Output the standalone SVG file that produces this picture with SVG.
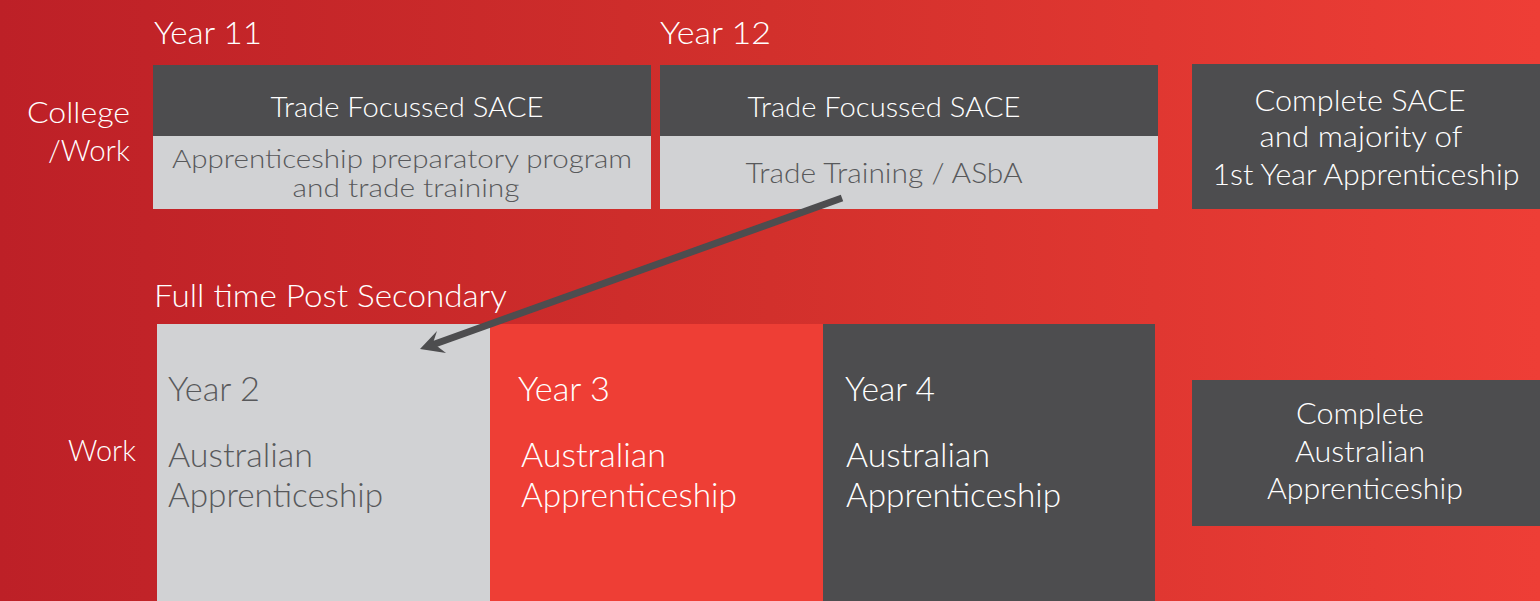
<svg xmlns="http://www.w3.org/2000/svg" width="1540" height="601" viewBox="0 0 1540 601">
<defs>
<linearGradient id="bg" x1="0" y1="0" x2="1" y2="0">
<stop offset="0" stop-color="#BD2027"/>
<stop offset="0.5" stop-color="#D2302C"/>
<stop offset="1" stop-color="#EE3E36"/>
</linearGradient>
<style>
text{font-family:Lato,"Liberation Sans","DejaVu Sans",sans-serif;font-weight:300}
.w{fill:#FFFFFF}
.g{fill:#58595B}
.dark{fill:#4D4D4F}
.light{fill:#D1D2D4}
.red{fill:#EE3E35}
.s25{font-size:25px}
.s28{font-size:28px}
.s30{font-size:30px}
.s32{font-size:32px}
.s33{font-size:33px}
.c{text-anchor:middle}
.r{text-anchor:end}
</style>
</defs>
<rect x="0" y="0" width="1540" height="601" fill="url(#bg)"/>

<g id="labels">
<text class="w s32" x="154" y="44" textLength="108" lengthAdjust="spacingAndGlyphs">Year 11</text>
<text class="w s32" x="660" y="44" textLength="111" lengthAdjust="spacingAndGlyphs">Year 12</text>
<text class="w s30 r" x="130" y="123" textLength="103" lengthAdjust="spacingAndGlyphs">College</text>
<text class="w s30 r" x="130" y="161" textLength="82" lengthAdjust="spacingAndGlyphs">/Work</text>
<text class="w s32" x="154" y="307" textLength="353" lengthAdjust="spacingAndGlyphs">Full time Post Secondary</text>
<text class="w s30 r" x="136" y="461" textLength="68" lengthAdjust="spacingAndGlyphs">Work</text>
</g>

<g id="year11">
<rect class="dark" x="153" y="65" width="498" height="71"/>
<rect class="light" x="153" y="136" width="498" height="73"/>
<text class="w s28 c" x="407" y="117" textLength="273" lengthAdjust="spacingAndGlyphs">Trade Focussed SACE</text>
<text class="g s25 c" x="402" y="168" textLength="460" lengthAdjust="spacingAndGlyphs">Apprenticeship preparatory program</text>
<text class="g s25 c" x="406" y="197" textLength="227" lengthAdjust="spacingAndGlyphs">and trade training</text>
</g>

<g id="year12">
<rect class="dark" x="660" y="65" width="498" height="71"/>
<rect class="light" x="660" y="136" width="498" height="73"/>
<text class="w s28 c" x="884" y="117" textLength="273" lengthAdjust="spacingAndGlyphs">Trade Focussed SACE</text>
<text class="g s28 c" x="884" y="183" textLength="277" lengthAdjust="spacingAndGlyphs">Trade Training / ASbA</text>
</g>

<g id="complete-sace">
<rect class="dark" x="1192" y="64" width="348" height="145"/>
<text class="w s30 c" x="1360" y="111" textLength="211" lengthAdjust="spacingAndGlyphs">Complete SACE</text>
<text class="w s30 c" x="1361" y="147" textLength="203" lengthAdjust="spacingAndGlyphs">and majority of</text>
<text class="w s30 c" x="1366" y="185" textLength="307" lengthAdjust="spacingAndGlyphs">1st Year Apprenticeship</text>
</g>

<g id="year2">
<rect class="light" x="157" y="324" width="333" height="277"/>
<text class="g s33" x="168" y="401" textLength="92" lengthAdjust="spacingAndGlyphs">Year 2</text>
<text class="g s33" x="168" y="467" textLength="145" lengthAdjust="spacingAndGlyphs">Australian</text>
<text class="g s33" x="168" y="507" textLength="215" lengthAdjust="spacingAndGlyphs">Apprenticeship</text>
</g>

<g id="year3">
<rect class="red" x="490" y="324" width="333" height="277"/>
<text class="w s33" x="518" y="401" textLength="92" lengthAdjust="spacingAndGlyphs">Year 3</text>
<text class="w s33" x="521" y="467" textLength="145" lengthAdjust="spacingAndGlyphs">Australian</text>
<text class="w s33" x="521" y="507" textLength="216" lengthAdjust="spacingAndGlyphs">Apprenticeship</text>
</g>

<g id="year4">
<rect class="dark" x="823" y="324" width="332" height="277"/>
<text class="w s33" x="845" y="401" textLength="90" lengthAdjust="spacingAndGlyphs">Year 4</text>
<text class="w s33" x="846" y="467" textLength="144" lengthAdjust="spacingAndGlyphs">Australian</text>
<text class="w s33" x="846" y="507" textLength="215" lengthAdjust="spacingAndGlyphs">Apprenticeship</text>
</g>

<g id="complete-apprenticeship">
<rect class="dark" x="1192" y="380" width="348" height="146"/>
<text class="w s30 c" x="1360" y="424" textLength="128" lengthAdjust="spacingAndGlyphs">Complete</text>
<text class="w s30 c" x="1360" y="462" textLength="130" lengthAdjust="spacingAndGlyphs">Australian</text>
<text class="w s30 c" x="1365" y="499" textLength="196" lengthAdjust="spacingAndGlyphs">Apprenticeship</text>
</g>

<g id="connectors">
<line x1="842" y1="198" x2="432" y2="345" stroke="#4D4D4F" stroke-width="7"/>
<polygon points="420,349 437,331 433,343 446,353" fill="#4D4D4F"/>
</g>
</svg>
